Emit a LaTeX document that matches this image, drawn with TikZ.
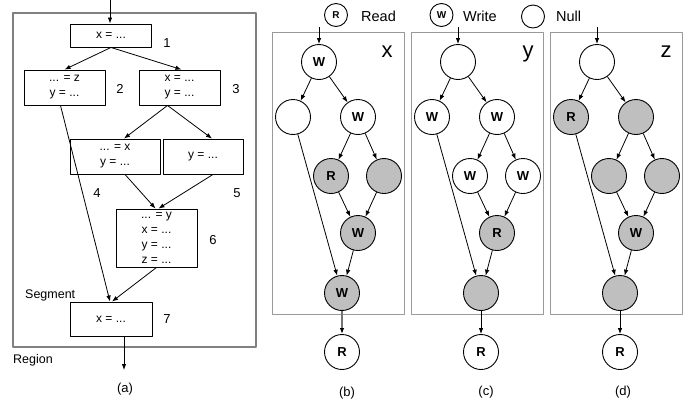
\documentclass[tikz,border=0pt]{standalone}
\usepackage{fontspec}
\setmainfont{Liberation Sans}
\usetikzlibrary{arrows.meta}

\begin{document}
\begin{tikzpicture}[
        x=1pt,
        y=-1pt,
        >={Latex[length=6pt,width=4.5pt]},
        line join=round,
        blk/.style={draw, line width=0.9pt, inner sep=0pt, align=center,
            minimum width=81pt, minimum height=23pt,
            font=\fontsize{12}{15}\selectfont},
        num/.style={inner sep=0pt, font=\fontsize{13}{15}\selectfont},
        txt/.style={inner sep=0pt, anchor=west, font=\fontsize{12.5}{15}\selectfont},
        nul/.style={circle, draw, line width=0.9pt, fill=white, inner sep=0pt,
            minimum size=35pt, font=\fontsize{13}{14}\selectfont\bfseries},
        hit/.style={nul, fill=black!25},
        key/.style={nul, minimum size=23pt, font=\fontsize{10}{11}\selectfont\bfseries},
        var/.style={inner sep=0pt, anchor=base, font=\fontsize{22}{24}\selectfont},
        frame/.style={draw=black!40, line width=1pt}
    ]
        \useasboundingbox (0,0) rectangle (697,408);

        % (a) 区域与基本块
        \draw[draw=black!50, line width=1.8pt] (13,13) rectangle (256,347);
        \node[blk] (b1) at (111,35.5) {x = ...};
        \node[blk, minimum height=35pt] (b2) at (64.5,87.5) {... = z\\y = ...};
        \node[blk, minimum height=35pt] (b3) at (179.5,87.5) {x = ...\\y = ...};
        \node[blk, minimum width=90pt, minimum height=35pt] (b4) at (115,156.5) {... = x\\y = ...};
        \node[blk, minimum width=80pt, minimum height=35pt] (b5) at (203,156.5) {y = ...};
        \node[blk, minimum height=58pt] (b6) at (156.5,238) {... = y\\x = ...\\y = ...\\z = ...};
        \node[blk, minimum width=82pt, minimum height=34pt] (b7) at (111,319) {x = ...};

        % 块编号
        \node[num] (n1) at (167,43) {1};
        \node[num] (n2) at (120,89) {2};
        \node[num] (n3) at (236,89) {3};
        \node[num] (n4) at (97,193) {4};
        \node[num] (n5) at (237,193) {5};
        \node[num] (n6) at (213,240) {6};
        \node[num] (n7) at (167,319) {7};
        \node[txt] (seg) at (25,295) {Segment};
        \node[txt] (reg) at (13,360) {Region};
        \node[num] (capa) at (125,389) {(a)};

        % 控制流边
        \coordinate (ain) at (110,0);
        \coordinate (aout) at (124,370);
        \draw[->, line width=0.8pt] (ain) -- (b1.north -| ain);
        \draw[->, line width=0.8pt] (b1.south) -- (b2.north);
        \draw[->, line width=0.8pt] (b1.south) -- ([xshift=2pt]b3.north);
        \draw[->, line width=0.8pt] ([xshift=-12pt]b3.south) -- ([xshift=9pt]b4.north);
        \draw[->, line width=0.8pt] ([xshift=-12pt]b3.south) -- ([xshift=9pt]b5.north);
        \draw[->, line width=0.8pt] ([xshift=10pt]b4.south) -- ([xshift=-1pt]b6.north);
        \draw[->, line width=0.8pt] ([xshift=10pt]b5.south) -- ([xshift=2pt]b6.north);
        \draw[->, line width=0.8pt] ([xshift=-4pt]b2.south) -- ([xshift=-1pt]b7.north);
        \draw[->, line width=0.8pt] (b6.south) -- ([xshift=1pt]b7.north);
        \draw[->, line width=0.8pt] (b7.south -| aout) -- (aout);

        % 图例
        \node[key] (kr) at (336,15) {R};
        \node[txt, font=\fontsize{14.5}{16}\selectfont] (kread) at (361,16) {Read};
        \node[key] (kw) at (441.5,15) {W};
        \node[txt, font=\fontsize{14.5}{16}\selectfont] (kwrite) at (463,16) {Write};
        \node[key] (kn) at (533,16.5) {};
        \node[txt, font=\fontsize{14.5}{16}\selectfont] (knull) at (556,16) {Null};

        % (b) 变量 x
        \draw[frame] (272,32) rectangle (404,314);
        \node[var] (bv) at (387,57) {x};
        \coordinate (b-i) at (319,27);
        \node[nul] (b-t) at (319,62) {W};
        \node[nul] (b-l) at (293,117) {};
        \node[nul] (b-r) at (358,117) {W};
        \node[hit] (b-rl) at (331,176) {R};
        \node[hit] (b-rr) at (384,176) {};
        \node[hit] (b-m) at (358,233) {W};
        \node[hit] (b-b) at (342,293) {W};
        \node[nul] (b-o) at (342,352) {R};
        \node[num] (capb) at (347,393) {(b)};

        % (c) 变量 y
        \draw[frame] (411,32) rectangle (543,314);
        \node[var] (cv) at (528,57) {y};
        \coordinate (c-i) at (458,27);
        \node[nul] (c-t) at (458,62) {};
        \node[nul] (c-l) at (432,117) {W};
        \node[nul] (c-r) at (497,117) {W};
        \node[nul] (c-rl) at (470,176) {W};
        \node[nul] (c-rr) at (523,176) {W};
        \node[hit] (c-m) at (497,233) {R};
        \node[hit] (c-b) at (481,293) {};
        \node[nul] (c-o) at (481,352) {R};
        \node[num] (capc) at (486,392) {(c)};

        % (d) 变量 z
        \draw[frame] (550,32) rectangle (682,314);
        \node[var] (dv) at (666,57) {z};
        \coordinate (d-i) at (597,27);
        \node[nul] (d-t) at (597,62) {};
        \node[hit] (d-l) at (571,117) {R};
        \node[hit] (d-r) at (636,117) {};
        \node[hit] (d-rl) at (609,176) {};
        \node[hit] (d-rr) at (662,176) {};
        \node[hit] (d-m) at (636,233) {W};
        \node[hit] (d-b) at (620,293) {};
        \node[nul] (d-o) at (620,352) {R};
        \node[num] (capd) at (623,392) {(d)};

        % 各子图的边
        \foreach \p/\oc/\ow in {b/black!55/1.2pt, c/black/0.8pt, d/black/0.8pt} {
            \draw[->, line width=0.8pt] (\p-i) -- (\p-t);
            \draw[->, line width=0.8pt] (\p-t) -- (\p-l);
            \draw[->, line width=0.8pt] (\p-t) -- (\p-r);
            \draw[->, line width=0.8pt] (\p-r) -- (\p-rl);
            \draw[->, line width=0.8pt] (\p-r) -- (\p-rr);
            \draw[->, line width=0.8pt] (\p-rl) -- (\p-m);
            \draw[->, line width=0.8pt] (\p-rr) -- (\p-m);
            \draw[->, line width=0.8pt] (\p-m) -- (\p-b);
            \draw[->, line width=0.8pt] (\p-l) -- (\p-b);
            \draw[-{Latex[length=6pt,width=4.5pt,color=black]}, draw=\oc, line width=\ow]
                (\p-b) -- (\p-o);
        }
    \end{tikzpicture}
\end{document}
